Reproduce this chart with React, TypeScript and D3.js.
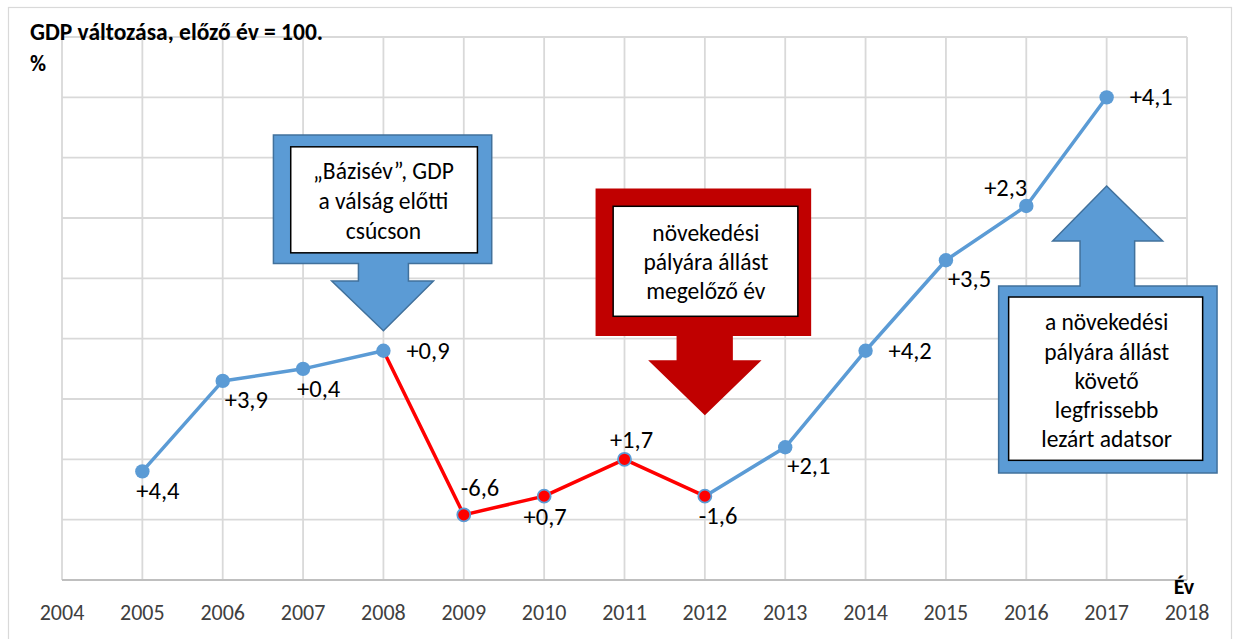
import React from "react";
import * as d3 from "d3";

const years = [2005, 2006, 2007, 2008, 2009, 2010, 2011, 2012, 2013, 2014, 2015, 2016, 2017];
// GDP level (relative; 1 unit = 1 gridline)
const levels = [1.8, 3.3, 3.5, 3.8, 1.08, 1.39, 2.0, 1.39, 2.2, 3.8, 5.3, 6.2, 8.0];
const growthLabels = ["+4,4", "+3,9", "+0,4", "+0,9", "-6,6", "+0,7", "+1,7", "-1,6", "+2,1", "+4,2", "+3,5", "+2,3", "+4,1"];
const labelPlacement = ["below", "belowRight", "below", "right", "above", "belowCenter", "aboveCenter", "below", "belowRight", "right", "belowRight", "left", "right"];
const crisisYears = [2008, 2009, 2010, 2011, 2012];
const axisYears = [2004, 2005, 2006, 2007, 2008, 2009, 2010, 2011, 2012, 2013, 2014, 2015, 2016, 2017, 2018];
const gridLevels = [0, 1, 2, 3, 4, 5, 6, 7, 8, 9];

const title = "GDP változása, előző év = 100.";
const unitLabel = "%";
const axisTitle = "Év";
const callout1 = ["„Bázisév”, GDP", "a válság előtti", "csúcson"];
const callout2 = ["növekedési", "pályára állást", "megelőző év"];
const callout3 = ["a növekedési", "pályára állást", "követő", "legfrissebb", "lezárt adatsor"];

const FONT = "Carlito, Calibri, Lato, 'Open Sans', sans-serif";
const BLUE = "#5B9BD5";
const BLUE_DARK = "#41719C";
const RED = "#FF0000";
const DARK_RED = "#C00000";

const placementOffsets: Record<string, { dx: number; dy: number; anchor: string }> = {
  below: { dx: -6, dy: 28, anchor: "start" },
  belowRight: { dx: 2, dy: 27, anchor: "start" },
  belowCenter: { dx: 1, dy: 29, anchor: "middle" },
  right: { dx: 23, dy: 8, anchor: "start" },
  above: { dx: -3, dy: -19, anchor: "start" },
  aboveCenter: { dx: 7, dy: -11, anchor: "middle" },
  left: { dx: 1, dy: -10, anchor: "end" },
};

export default function App() {
  const W = 1239;
  const H = 639;
  const x = d3.scaleLinear().domain([2004, 2018]).range([62, 1187]);
  const y = d3.scaleLinear().domain([0, 9]).range([580, 37]);

  const pts = years.map((yr, i) => ({ yr, v: levels[i], label: growthLabels[i], place: labelPlacement[i] }));
  const line = d3
    .line<{ yr: number; v: number }>()
    .x((d) => x(d.yr))
    .y((d) => y(d.v));

  const bluePart1 = pts.filter((p) => p.yr <= 2008);
  const bluePart2 = pts.filter((p) => p.yr >= 2012);
  const redPart = pts.filter((p) => crisisYears.includes(p.yr));

  // callout 1: down arrow to 2008 point
  const t1x = x(2008);
  const t1y = y(4.13);
  const c1 = `M${t1x - 110},${t1y - 195.7} H${t1x + 108.3} V${t1y - 67.4} H${t1x + 25} V${t1y - 49.7} H${t1x + 50} L${t1x},${t1y} L${t1x - 51.7},${t1y - 49.7} H${t1x - 25} V${t1y - 67.4} H${t1x - 110} Z`;
  // callout 2: red down arrow to 2012
  const t2x = x(2012);
  const t2y = y(2.73);
  const c2 = `M${t2x - 109.3},${t2y - 226.7} H${t2x + 106.3} V${t2y - 79.3} H${t2x + 28} V${t2y - 55} H${t2x + 56.7} L${t2x},${t2y} L${t2x - 56.7},${t2y - 55} H${t2x - 28.3} V${t2y - 79.3} H${t2x - 109.3} Z`;
  // callout 3: blue up arrow to 2017
  const t3x = x(2017);
  const t3y = y(6.53);
  const c3 = `M${t3x},${t3y} L${t3x + 56},${t3y + 55} H${t3x + 28} V${t3y + 100} H${t3x + 110.4} V${t3y + 287} H${t3x - 108} V${t3y + 100} H${t3x - 26.6} V${t3y + 55} H${t3x - 54} Z`;

  return (
    <svg
      width={W}
      height={H}
      style={{ position: "absolute", left: 0, top: 0, background: "#fff" }}
      fontFamily={FONT}
    >
      <rect x={0} y={0} width={W} height={H} fill="#fff" />
      <rect x={8.5} y={7.5} width={1223} height={700} fill="none" stroke="#D9D9D9" strokeWidth={1.2} />

      {/* gridlines */}
      {gridLevels.slice(1).map((g) => (
        <line key={"h" + g} x1={x(2004)} x2={x(2018)} y1={y(g)} y2={y(g)} stroke="#D9D9D9" strokeWidth={1.8} />
      ))}
      {axisYears.map((yr) => (
        <line key={"v" + yr} x1={x(yr)} x2={x(yr)} y1={y(9)} y2={y(0)} stroke="#D9D9D9" strokeWidth={1.8} />
      ))}
      <line x1={x(2004)} x2={x(2018)} y1={y(0)} y2={y(0)} stroke="#BFBFBF" strokeWidth={1.8} />

      {/* axis labels */}
      {axisYears.map((yr) => (
        <text key={"t" + yr} x={x(yr)} y={620} textAnchor="middle" fontSize={22} fill="#404040">
          {yr}
        </text>
      ))}
      <text x={1184} y={594} textAnchor="middle" fontSize={22} fontWeight="bold" fill="#000">
        {axisTitle}
      </text>

      {/* title */}
      <text x={30} y={40} fontSize={23.5} fontWeight="bold" fill="#000">
        {title}
      </text>
      <text x={30} y={71} fontSize={22} fontWeight="bold" fill="#000">
        {unitLabel}
      </text>

      {/* lines */}
      <path d={line(bluePart1) || ""} fill="none" stroke={BLUE} strokeWidth={3.5} strokeLinejoin="round" />
      <path d={line(bluePart2) || ""} fill="none" stroke={BLUE} strokeWidth={3.5} strokeLinejoin="round" />
      <path d={line(redPart) || ""} fill="none" stroke={RED} strokeWidth={3.5} strokeLinejoin="round" />

      {/* markers */}
      {pts.map((p) => {
        const isRed = crisisYears.includes(p.yr) && p.yr !== 2008;
        return (
          <circle
            key={"m" + p.yr}
            cx={x(p.yr)}
            cy={y(p.v)}
            r={isRed ? 6.5 : 7.2}
            fill={isRed ? RED : BLUE}
            stroke={BLUE}
            strokeWidth={isRed ? 1.8 : 0}
          />
        );
      })}

      {/* data labels */}
      {pts.map((p) => {
        const o = placementOffsets[p.place];
        return (
          <text
            key={"l" + p.yr}
            x={x(p.yr) + o.dx}
            y={y(p.v) + o.dy}
            textAnchor={o.anchor}
            fontSize={24.5}
            fill="#000"
          >
            {p.label}
          </text>
        );
      })}

      {/* callout 1 */}
      <path d={c1} fill={BLUE} stroke={BLUE_DARK} strokeWidth={1.5} />
      <rect x={t1x - 92.7} y={t1y - 184} width={186.7} height={106} fill="#fff" stroke="#000" strokeWidth={1.5} />
      {callout1.map((s, i) => (
        <text key={"c1" + i} x={t1x} y={t1y - 151.5 + i * 29.8} textAnchor="middle" fontSize={23.5} fill="#000">
          {s}
        </text>
      ))}

      {/* callout 2 */}
      <path d={c2} fill={DARK_RED} />
      <rect x={t2x - 91.7} y={t2y - 209} width={184.7} height={110} fill="#fff" stroke="#000" strokeWidth={1.5} />
      {callout2.map((s, i) => (
        <text key={"c2" + i} x={t2x + 1} y={t2y - 174.3 + i * 29} textAnchor="middle" fontSize={23.5} fill="#000">
          {s}
        </text>
      ))}

      {/* callout 3 */}
      <path d={c3} fill={BLUE} stroke={BLUE_DARK} strokeWidth={1.5} />
      <rect x={t3x - 98} y={t3y + 111} width={194} height={163.3} fill="#fff" stroke="#000" strokeWidth={1.5} />
      {callout3.map((s, i) => (
        <text key={"c3" + i} x={t3x} y={t3y + 144.3 + i * 29.2} textAnchor="middle" fontSize={23.5} fill="#000">
          {s}
        </text>
      ))}
    </svg>
  );
}
